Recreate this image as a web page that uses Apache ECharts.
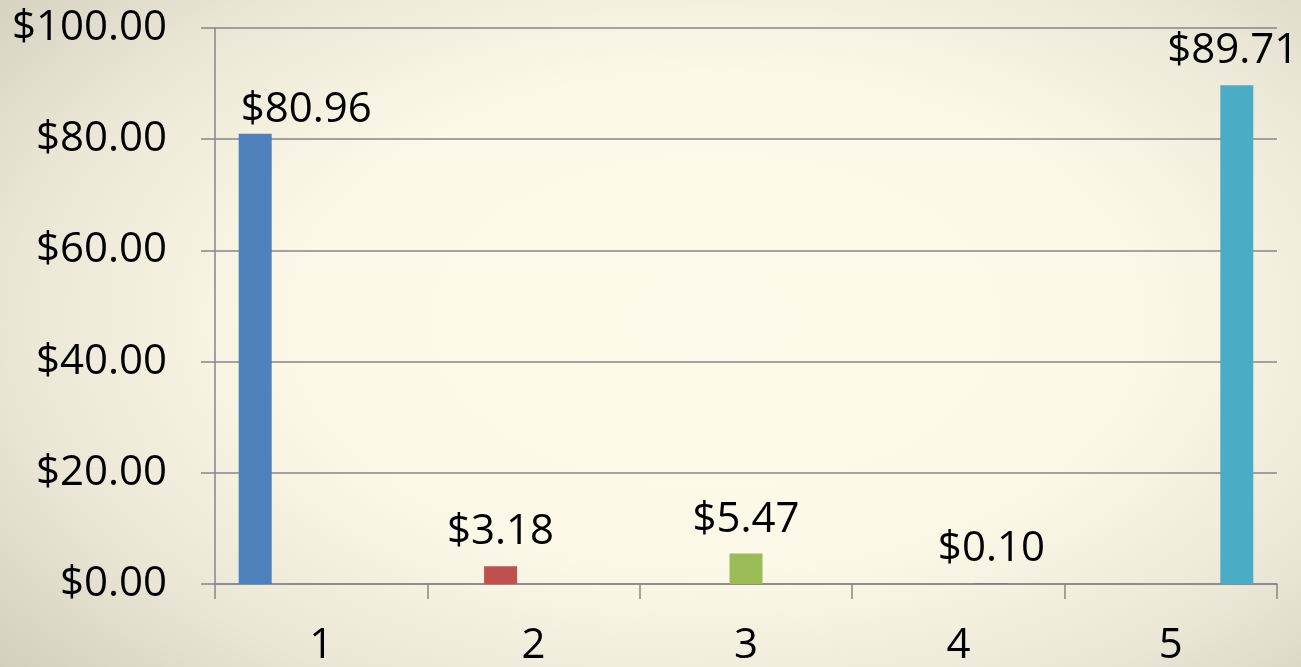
<!DOCTYPE html>
<html>
<head>
<meta charset="utf-8">
<script src="https://cdn.jsdelivr.net/npm/echarts@6/dist/echarts.min.js"></script>
<style>
html,body{margin:0;padding:0;}
#chart{width:1301px;height:667px;background:radial-gradient(ellipse 72% 82% at 55% 48%, #FDFAEB 0%, #FCF9E8 45%, #EAE7D7 75%, #D2CFBF 100%);}
</style>
</head>
<body>
<div id="chart"></div>
<script>
const categories = ['1', '2', '3', '4', '5'];
const values = [80.96, 3.18, 5.47, 0.10, 89.71];
const seriesColors = ['#4F81BD', '#C0504D', '#9BBB59', '#8064A2', '#4BACC6'];
const yTicks = [0, 20, 40, 60, 80, 100];

const FONT = 'Open Sans';
const money = v => '$' + Number(v).toFixed(2);

const series = values.map((v, i) => ({
  type: 'bar',
  name: 'S' + (i + 1),
  data: categories.map((c, j) => (j === i ? v : '-')),
  barGap: '0%',
  barCategoryGap: '22.3%',
  itemStyle: { color: seriesColors[i] },
  label: {
    show: true,
    position: 'top',
    distance: i === 0 ? 3 : 13,
    offset: i === 0 ? [51, 0] : (i === 4 ? [-4, 0] : [0, 0]),
    formatter: p => money(p.value),
    fontFamily: FONT,
    fontSize: 42,
    color: '#000'
  }
}));

const chart = echarts.init(document.getElementById('chart'), null, { renderer: 'canvas' });
chart.setOption({
  backgroundColor: 'transparent',
  animation: false,
  grid: { left: 215, right: 24, top: 28, height: 557, containLabel: false },
  xAxis: {
    type: 'category',
    data: categories,
    boundaryGap: true,
    axisLine: { show: true, lineStyle: { color: '#868686', width: 1.5 } },
    axisTick: { show: true, length: 15, alignWithLabel: false, lineStyle: { color: '#868686', width: 1.5 } },
    axisLabel: { fontFamily: FONT, fontSize: 42, color: '#000', margin: 41 }
  },
  yAxis: {
    type: 'value',
    min: yTicks[0],
    max: yTicks[yTicks.length - 1],
    interval: 20,
    axisLine: { show: true, lineStyle: { color: '#868686', width: 1.5 } },
    axisTick: { show: true, length: 14, lineStyle: { color: '#868686', width: 1.5 } },
    splitLine: { show: true, lineStyle: { color: '#868686', width: 1.5 } },
    axisLabel: { fontFamily: FONT, fontSize: 42, color: '#000', margin: 48, formatter: v => money(v) }
  },
  series: series
});
</script>
</body>
</html>
